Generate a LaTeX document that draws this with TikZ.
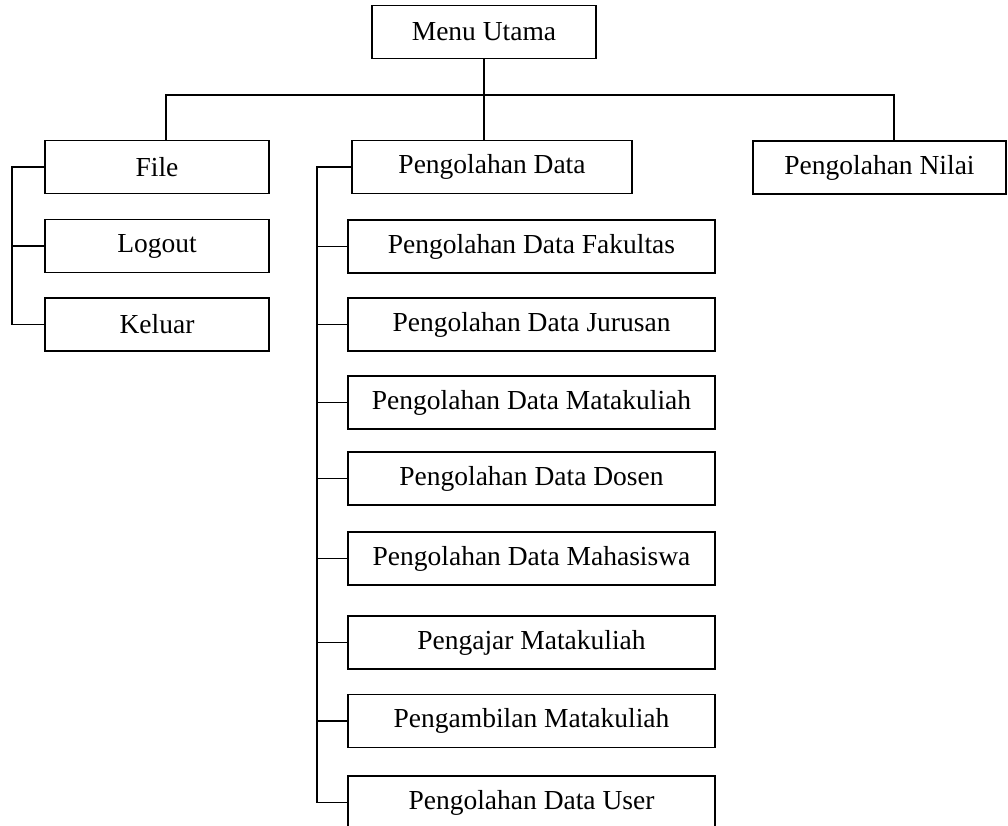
\documentclass[tikz,border=0pt]{standalone}
\usepackage{fontspec}
\setmainfont{Liberation Serif}
\usepackage{tikz}
\usetikzlibrary{positioning, calc}

\begin{document}
\begin{tikzpicture}[x=1pt, y=-1pt, font=\fontsize{27.5}{33}\selectfont]
\tikzstyle{menubox} = [rectangle, draw=black, line width=1.5pt, minimum height=53pt, inner sep=0pt, text centered]
\tikzstyle{wide} = [menubox, minimum width=224pt]
\tikzstyle{subbox} = [menubox, minimum width=367pt]
\tikzstyle{link} = [line width=1.5pt]

\useasboundingbox (0,0) rectangle (1008,826);

% Top
\node[wide] (utama) at (484,32) {Menu Utama};

% Main menus
\node[wide] (file) at (157,167) {File};
\node[wide] (logout) at (157,246) {Logout};
\node[wide] (keluar) at (157,324.5) {Keluar};
\node[menubox, minimum width=280pt] (pdata) at (492,167) {Pengolahan Data};
\node[menubox, minimum width=253pt] (pnilai) at (879.5,167.5) {Pengolahan Nilai};

% Sub menus of Pengolahan Data
\node[subbox] (fakultas) at (531.5,246.5) {Pengolahan Data Fakultas};
\node[subbox] (jurusan) at (531.5,324.5) {Pengolahan Data Jurusan};
\node[subbox] (matkul) at (531.5,402.5) {Pengolahan Data Matakuliah};
\node[subbox] (dosen) at (531.5,478.5) {Pengolahan Data Dosen};
\node[subbox] (mhs) at (531.5,558.5) {Pengolahan Data Mahasiswa};
\node[subbox] (pengajar) at (531.5,642.5) {Pengajar Matakuliah};
\node[subbox] (ambil) at (531.5,721) {Pengambilan Matakuliah};
\node[subbox] (user) at (531.5,802.5) {Pengolahan Data User};

% Bus and bracket points
\coordinate (busL) at (166,95);
\coordinate (busR) at (894,95);
\coordinate (fbar) at (12,0);
\coordinate (pbar) at (317,0);

% Connections
\draw[link] (utama.south) -- (utama.south |- busL);
\draw[link] (busL |- file.north) -- (busL) -- (busR) -- (busR |- pnilai.north);
\draw[link] (utama.south |- busL) -- (utama.south |- pdata.north);
\draw[link] (file.west) -- (file.west -| fbar) -- (keluar.west -| fbar) -- (keluar.west);
\draw[link] (logout.west) -- (logout.west -| fbar);
\draw[link] (pdata.west) -- (pdata.west -| pbar) -- (user.west -| pbar) -- (user.west);
\draw[link] (fakultas.west) -- (fakultas.west -| pbar);
\draw[link] (jurusan.west) -- (jurusan.west -| pbar);
\draw[link] (matkul.west) -- (matkul.west -| pbar);
\draw[link] (dosen.west) -- (dosen.west -| pbar);
\draw[link] (mhs.west) -- (mhs.west -| pbar);
\draw[link] (pengajar.west) -- (pengajar.west -| pbar);
\draw[link] (ambil.west) -- (ambil.west -| pbar);
\end{tikzpicture}
\end{document}
